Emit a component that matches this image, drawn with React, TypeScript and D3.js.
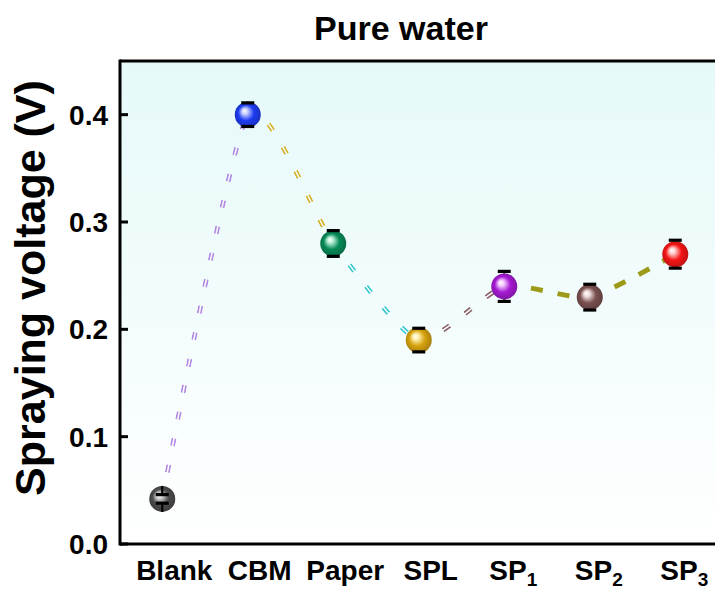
import React from "react";
import * as d3 from "d3";

// data
const labelBase = ["Blank", "CBM", "Paper", "SPL", "SP", "SP", "SP"];
const labelSub = ["", "", "", "", "1", "2", "3"];
const voltage = [0.042, 0.4, 0.28, 0.19, 0.24, 0.23, 0.27];
const errors = [0.004, 0.011, 0.012, 0.011, 0.014, 0.012, 0.013];
const ballColors = ["#4d4d4d", "#1e3cf2", "#078a58", "#d6a20e", "#a41ad2", "#7a5050", "#f51616"];
const ballLights = ["#d8d8d8", "#c8d0ff", "#b8f0d8", "#fff0b0", "#f4c8ff", "#f0dede", "#ffd0d0"];
const segColors = ["#b486e4", "#d8ae22", "#34c6d0", "#8c6068", "#9c9a18", "#9c9a18"];
const segDouble = [true, true, true, true, false, false];
const yTicks = [0, 0.1, 0.2, 0.3, 0.4];

const W = 715;
const H = 592;
const left = 120;
const top = 61;
const bottom = 544;
const font = "'Liberation Sans', Arial, sans-serif";

const App = () => {
  const x = d3.scaleLinear().domain([-0.5, 6.5]).range([119.5, 718]);
  const y = d3.scaleLinear().domain([0, 0.45]).range([bottom, top]);
  const r = 13;

  const pts: [number, number][] = voltage.map((v, i) => [x(i), y(v)]);
  const full = d3.line().curve(d3.curveCardinal.tension(0.4))(pts) || "";
  const parts = full.split("C");
  const segs = pts.slice(0, -1).map((p, i) => `M${p[0]},${p[1]}C${parts[i + 1]}`);

  return (
    <svg width={W} height={H} style={{ position: "absolute", left: 0, top: 0 }}>
      <defs>
        <linearGradient id="bg" x1="0" y1="0" x2="0" y2="1">
          <stop offset="0%" stopColor="#e6f9f9" />
          <stop offset="100%" stopColor="#ffffff" />
        </linearGradient>
        {ballColors.map((c, i) => (
          <radialGradient key={i} id={`ball${i}`} cx="50%" cy="50%" r="55%" fx="36%" fy="34%">
            <stop offset="0%" stopColor="#ffffff" />
            <stop offset="20%" stopColor={ballLights[i]} />
            <stop offset="55%" stopColor={c} />
            <stop offset="100%" stopColor={d3.color(c)!.darker(0.8).toString()} />
          </radialGradient>
        ))}
        <mask id="dbl" maskUnits="userSpaceOnUse" x={0} y={0} width={W} height={H}>
          {segs.map((d, i) =>
            segDouble[i] ? (
              <path key={`w${i}`} d={d} fill="none" stroke="#fff" strokeWidth={5} strokeDasharray="8 19" />
            ) : null
          )}
          {segs.map((d, i) =>
            segDouble[i] ? (
              <path key={`b${i}`} d={d} fill="none" stroke="#000" strokeWidth={1.6} strokeDasharray="8 19" />
            ) : null
          )}
        </mask>
      </defs>

      <rect x={left} y={top} width={W - left} height={bottom - top} fill="url(#bg)" />

      {/* connecting spline, one colour per segment */}
      {segs.map((d, i) =>
        segDouble[i] ? (
          <path key={i} d={d} fill="none" stroke={segColors[i]} strokeWidth={5}
            strokeDasharray="8 19" mask="url(#dbl)" />
        ) : (
          <path key={i} d={d} fill="none" stroke={segColors[i]} strokeWidth={5}
            strokeDasharray="12 15" />
        )
      )}

      {/* balls and error bars (bars start at the ball edge) */}
      {voltage.map((v, i) => {
        const cx = x(i);
        const cy = y(v);
        const eUp = y(v + errors[i]);
        const eDn = y(v - errors[i]);
        return (
          <g key={i}>
            <circle cx={cx} cy={cy} r={r} fill={`url(#ball${i})`} />
            <line x1={cx} x2={cx} y1={cy - r} y2={eUp} stroke="#000" strokeWidth={2.2} />
            <line x1={cx} x2={cx} y1={cy + r} y2={eDn} stroke="#000" strokeWidth={2.2} />
            <line x1={cx - 6.5} x2={cx + 6.5} y1={eUp} y2={eUp} stroke="#000" strokeWidth={3.2} />
            <line x1={cx - 6.5} x2={cx + 6.5} y1={eDn} y2={eDn} stroke="#000" strokeWidth={3.2} />
          </g>
        );
      })}

      {/* frame */}
      <line x1={left} x2={W} y1={top} y2={top} stroke="#000" strokeWidth={3} />
      <line x1={left} x2={W} y1={bottom} y2={bottom} stroke="#000" strokeWidth={3} />
      <line x1={left} x2={left} y1={top - 1.5} y2={bottom + 1.5} stroke="#000" strokeWidth={3} />

      {/* y ticks */}
      {yTicks.map((t) => (
        <g key={t}>
          <line x1={left} x2={left + 8} y1={y(t)} y2={y(t)} stroke="#000" strokeWidth={3} />
          <text x={108} y={y(t)} dy="0.36em" textAnchor="end" fontFamily={font}
            fontWeight="bold" fontSize={28}>
            {d3.format(".1f")(t)}
          </text>
        </g>
      ))}

      {/* x labels */}
      {labelBase.map((b, i) => (
        <text key={i} x={x(i) + (labelSub[i] ? 9 : 12)} y={580} textAnchor="middle" fontFamily={font}
          fontWeight="bold" fontSize={28}>
          {b}
          {labelSub[i] ? (
            <tspan fontSize={19} dy={6}>{labelSub[i]}</tspan>
          ) : null}
        </text>
      ))}

      <text x={401} y={40} textAnchor="middle" fontFamily={font} fontWeight="bold" fontSize={34}>
        Pure water
      </text>
      <text transform="translate(45,288) rotate(-90)" textAnchor="middle" fontFamily={font}
        fontWeight="bold" fontSize={43}>
        Spraying voltage (V)
      </text>
    </svg>
  );
};

export default App;
